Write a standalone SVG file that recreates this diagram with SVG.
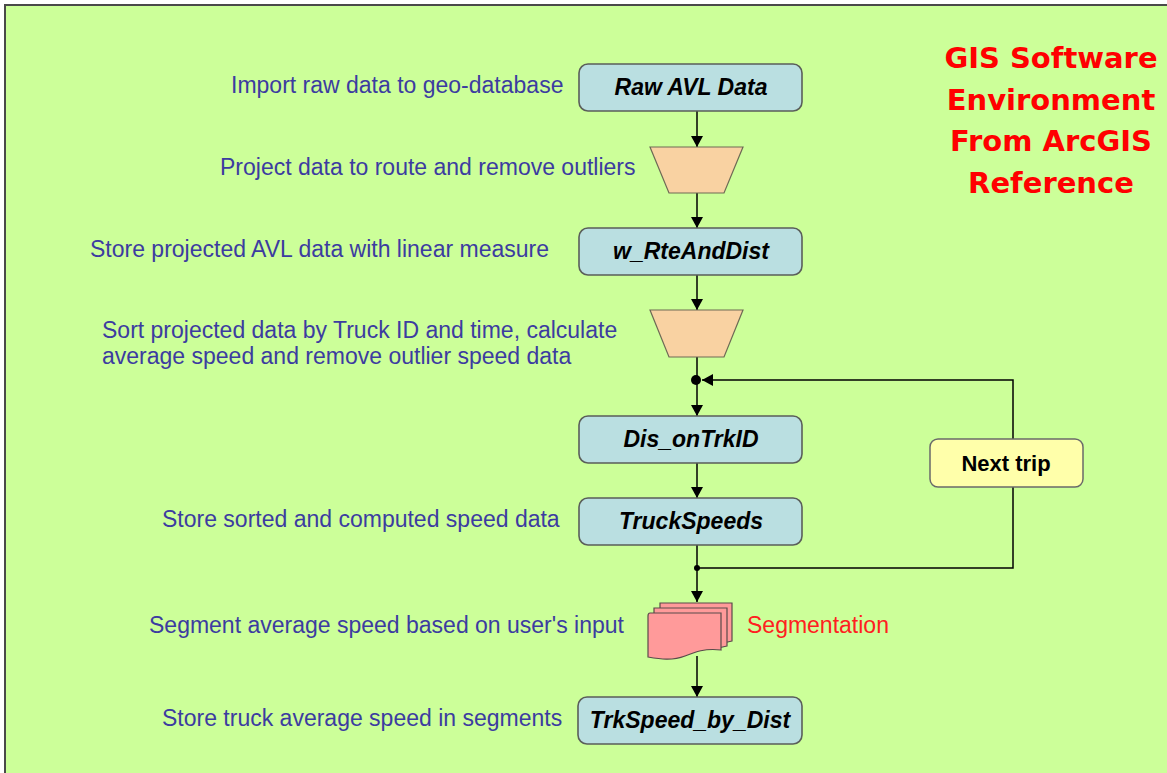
<svg xmlns="http://www.w3.org/2000/svg" width="1167" height="773" viewBox="0 0 1167 773">
<defs>
<style>
.lbl{font-family:"Liberation Sans",Arial,sans-serif;font-size:23px;fill:#3C3CA0}
.nd{font-family:"Liberation Sans",Arial,sans-serif;font-size:23px;font-weight:bold;font-style:italic;fill:#000;text-anchor:middle}
.box{fill:#BADFE1;stroke:#5A5E5A;stroke-width:1.6}
.trap{fill:#F9D2A2;stroke:#6E6A55;stroke-width:1.2}
.seg{fill:#FF9A9A;stroke:#5A4A4A;stroke-width:1.2}
.title{font-family:"DejaVu Sans",Verdana,sans-serif;font-size:29px;font-weight:bold;fill:#FF0000;text-anchor:middle}
.conn{fill:none;stroke:#000;stroke-width:1.5}
</style>
<marker id="arr" markerUnits="userSpaceOnUse" markerWidth="12" markerHeight="12" refX="11" refY="6" orient="auto">
<path d="M0,0 L11,6 L0,12 Z" fill="#000"/>
</marker>
</defs>
<rect x="0" y="0" width="1167" height="773" fill="#fff"/>
<rect x="5" y="5" width="1170" height="780" fill="#CCFF99" stroke="#4A4A4A" stroke-width="2"/>

<g id="title">
<text class="title" x="1051" y="68">GIS Software</text>
<text class="title" x="1051" y="110">Environment</text>
<text class="title" x="1051" y="151">From ArcGIS</text>
<text class="title" x="1051" y="193">Reference</text>
</g>

<g id="labels">
<text class="lbl" x="231" y="93">Import raw data to geo-database</text>
<text class="lbl" x="220" y="175">Project data to route and remove outliers</text>
<text class="lbl" x="90" y="257">Store projected AVL data with linear measure</text>
<text class="lbl" x="102" y="338">Sort projected data by Truck ID and time, calculate</text>
<text class="lbl" x="102" y="364">average speed and remove outlier speed data</text>
<text class="lbl" x="162" y="527">Store sorted and computed speed data</text>
<text class="lbl" x="149" y="633">Segment average speed based on user's input</text>
<text class="lbl" x="162" y="726">Store truck average speed in segments</text>
</g>

<g id="connectors">
<line class="conn" x1="697" y1="111" x2="697" y2="147" marker-end="url(#arr)"/>
<line class="conn" x1="697" y1="193" x2="697" y2="228" marker-end="url(#arr)"/>
<line class="conn" x1="697" y1="275" x2="697" y2="310" marker-end="url(#arr)"/>
<line class="conn" x1="697" y1="357" x2="697" y2="416" marker-end="url(#arr)"/>
<line class="conn" x1="697" y1="463" x2="697" y2="498" marker-end="url(#arr)"/>
<line class="conn" x1="697" y1="545" x2="697" y2="602" marker-end="url(#arr)"/>
<line class="conn" x1="697" y1="656" x2="697" y2="697" marker-end="url(#arr)"/>
<polyline class="conn" points="697,568 1013,568 1013,487"/>
<polyline class="conn" points="1013,439 1013,380 702,380" marker-end="url(#arr)"/>
<circle cx="696" cy="380" r="5" fill="#000"/>
<circle cx="697" cy="568" r="3" fill="#000"/>
</g>

<g id="n-raw">
<rect class="box" x="579" y="64" width="223" height="47" rx="9"/>
<text class="nd" x="691" y="95">Raw AVL Data</text>
</g>
<g id="n-trap1">
<polygon class="trap" points="650,147 743,147 724,193 669,193"/>
</g>
<g id="n-wrte">
<rect class="box" x="579" y="228" width="223" height="47" rx="9"/>
<text class="nd" x="691" y="259">w_RteAndDist</text>
</g>
<g id="n-trap2">
<polygon class="trap" points="650,310 743,310 724,357 669,357"/>
</g>
<g id="n-dis">
<rect class="box" x="579" y="416" width="223" height="47" rx="9"/>
<text class="nd" x="691" y="447">Dis_onTrkID</text>
</g>
<g id="n-truck">
<rect class="box" x="579" y="498" width="223" height="47" rx="9"/>
<text class="nd" x="691" y="529">TruckSpeeds</text>
</g>
<g id="n-next">
<rect x="930" y="439" width="153" height="48" rx="8" fill="#FFFFAA" stroke="#6A6A6A" stroke-width="1.5"/>
<text x="1006" y="471" font-family="'Liberation Sans',Arial,sans-serif" font-size="22" font-weight="bold" text-anchor="middle" fill="#000">Next trip</text>
</g>
<g id="n-seg">
<path class="seg" d="M660,603 H732 V641 Q715,646 700,642 H660 Z"/>
<path class="seg" d="M654,608 H727 V646 Q710,651 695,647 H654 Z"/>
<path class="seg" d="M650,613 H721 V650 C705,648 695,652 685,656 C672,661 660,659 648,657 V616 Q648,613 650,613 Z"/>
<text x="747" y="633" font-family="'Liberation Sans',Arial,sans-serif" font-size="23" fill="#FF2020">Segmentation</text>
</g>
<g id="n-trkdist">
<rect class="box" x="578" y="697" width="224" height="47" rx="9"/>
<text class="nd" x="690" y="728">TrkSpeed_by_Dist</text>
</g>
</svg>
